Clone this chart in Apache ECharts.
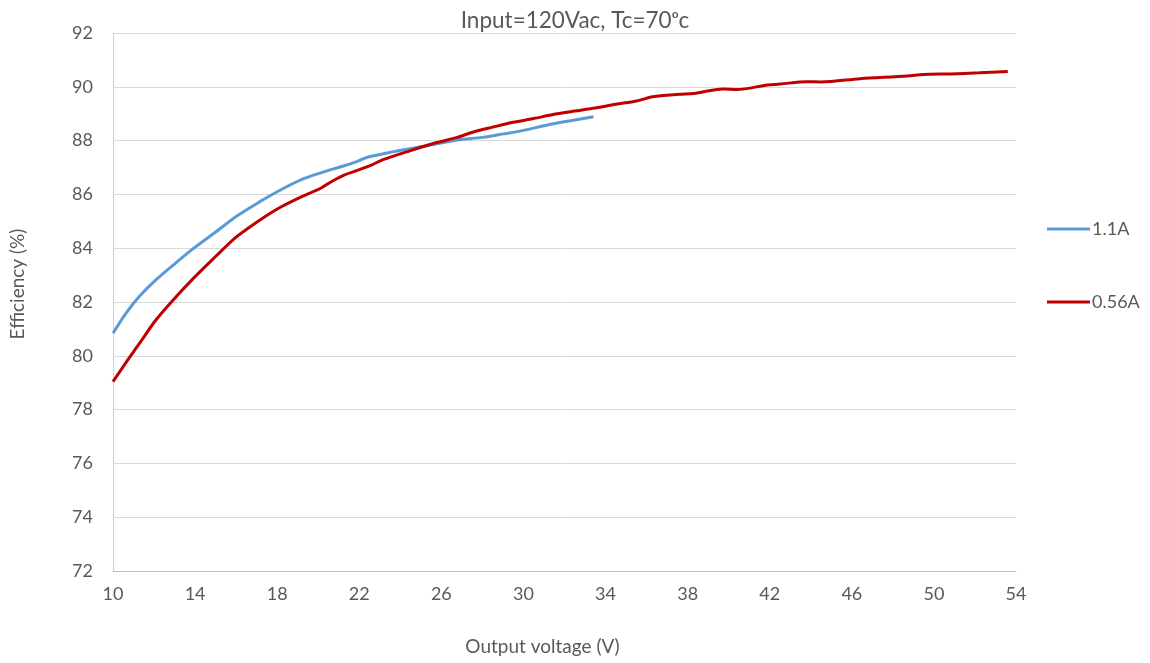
<!DOCTYPE html>
<html>
<head>
<meta charset="utf-8">
<script src="https://cdn.jsdelivr.net/npm/echarts@6/dist/echarts.min.js"></script>
<style>html,body{margin:0;padding:0;background:#fff}#c{width:1150px;height:663px}</style>
</head>
<body>
<div id="c"></div>
<script>
const seriesNames = ['1.1A', '0.56A'];
const blueX = [10, 10.63, 11.28, 12.09, 12.9, 13.8, 15, 16, 17.2, 18, 19.15, 20.12, 21.1, 21.74, 22.4, 23.69, 25, 26.78, 28, 29.03, 30, 31.17, 32.3, 33.41];
const blueY = [80.84, 81.58, 82.2, 82.82, 83.35, 83.92, 84.6, 85.18, 85.75, 86.1, 86.54, 86.8, 87.03, 87.18, 87.38, 87.59, 87.77, 88.02, 88.12, 88.25, 88.38, 88.58, 88.74, 88.89];
const redX = [10, 10.63, 11.28, 12.09, 12.9, 13.88, 15.01, 15.9, 16.6, 17.4, 18.2, 19.15, 20.12, 20.7, 21.26, 22.4, 23.2, 24.5, 25.64, 26.78, 27.6, 28.5, 29.5, 30.5, 31.5, 32.5, 33.4, 34.5, 35.5, 36.3, 37.6, 38.3, 39.7, 40.4, 41.9, 42.5, 43.8, 44.5, 46.4, 48.7, 49.5, 50.8, 52.2, 53.6];
const redY = [79.04, 79.75, 80.45, 81.33, 82.05, 82.85, 83.7, 84.35, 84.75, 85.17, 85.54, 85.9, 86.23, 86.5, 86.72, 87.03, 87.3, 87.63, 87.9, 88.12, 88.33, 88.5, 88.68, 88.82, 88.98, 89.1, 89.2, 89.35, 89.47, 89.63, 89.72, 89.75, 89.92, 89.9, 90.07, 90.1, 90.19, 90.18, 90.3, 90.4, 90.46, 90.48, 90.52, 90.57];
const xTicks = [10, 14, 18, 22, 26, 30, 34, 38, 42, 46, 50, 54];
const yTicks = [72, 74, 76, 78, 80, 82, 84, 86, 88, 90, 92];

const pairs = (xs, ys) => xs.map((x, i) => [x, ys[i]]);
const font = 'Lato, "Open Sans", sans-serif';
const chart = echarts.init(document.getElementById('c'), null, {renderer: 'canvas'});
chart.setOption({
  animation: false,
  backgroundColor: '#fff',
  textStyle: {fontFamily: font},
  title: {
    text: 'Input=120Vac, Tc=70ᵒc',
    left: 'center', top: 4,
    textStyle: {fontFamily: font, fontSize: 22.5, fontWeight: 'normal', color: '#595959'}
  },
  legend: {
    orient: 'vertical',
    left: 1047, top: 220, padding: 0,
    itemWidth: 43, itemHeight: 14, itemGap: 55,
    icon: 'path://M0,6 L43,6 L43,9 L0,9 Z',
    textStyle: {fontFamily: font, fontSize: 18, color: '#595959', padding: [0, 0, 0, -3]},
    data: seriesNames
  },
  grid: {left: 112, right: 134, top: 33, bottom: 92, containLabel: false},
  xAxis: {
    type: 'value', min: xTicks[0], max: xTicks[xTicks.length - 1], interval: 4,
    name: 'Output voltage (V)', nameLocation: 'middle', nameGap: 66,
    nameTextStyle: {fontFamily: font, fontSize: 19, color: '#595959', padding: [0, 44, 0, 0]},
    axisLine: {show: true, lineStyle: {color: '#bfbfbf', width: 1}},
    axisTick: {show: false},
    splitLine: {show: false},
    axisLabel: {fontFamily: font, fontSize: 18, color: '#595959', margin: 14}
  },
  yAxis: {
    type: 'value', min: yTicks[0], max: yTicks[yTicks.length - 1], interval: 2,
    name: 'Efficiency (%)', nameLocation: 'middle', nameGap: 86,
    nameTextStyle: {fontFamily: font, fontSize: 19, color: '#595959', padding: [0, 0, 0, 36]},
    axisLine: {show: true, lineStyle: {color: '#d0d0d0', width: 1}},
    axisTick: {show: false},
    splitLine: {show: true, lineStyle: {color: '#d9d9d9', width: 1}},
    axisLabel: {fontFamily: font, fontSize: 18, color: '#595959', margin: 20}
  },
  series: [
    {name: seriesNames[0], type: 'line', data: pairs(blueX, blueY), symbol: 'none', smooth: 0.3,
     lineStyle: {color: '#5b9bd5', width: 3}, itemStyle: {color: '#5b9bd5'}},
    {name: seriesNames[1], type: 'line', data: pairs(redX, redY), symbol: 'none', smooth: 0.3,
     lineStyle: {color: '#c00000', width: 3}, itemStyle: {color: '#c00000'}}
  ]
});
</script>
</body>
</html>
